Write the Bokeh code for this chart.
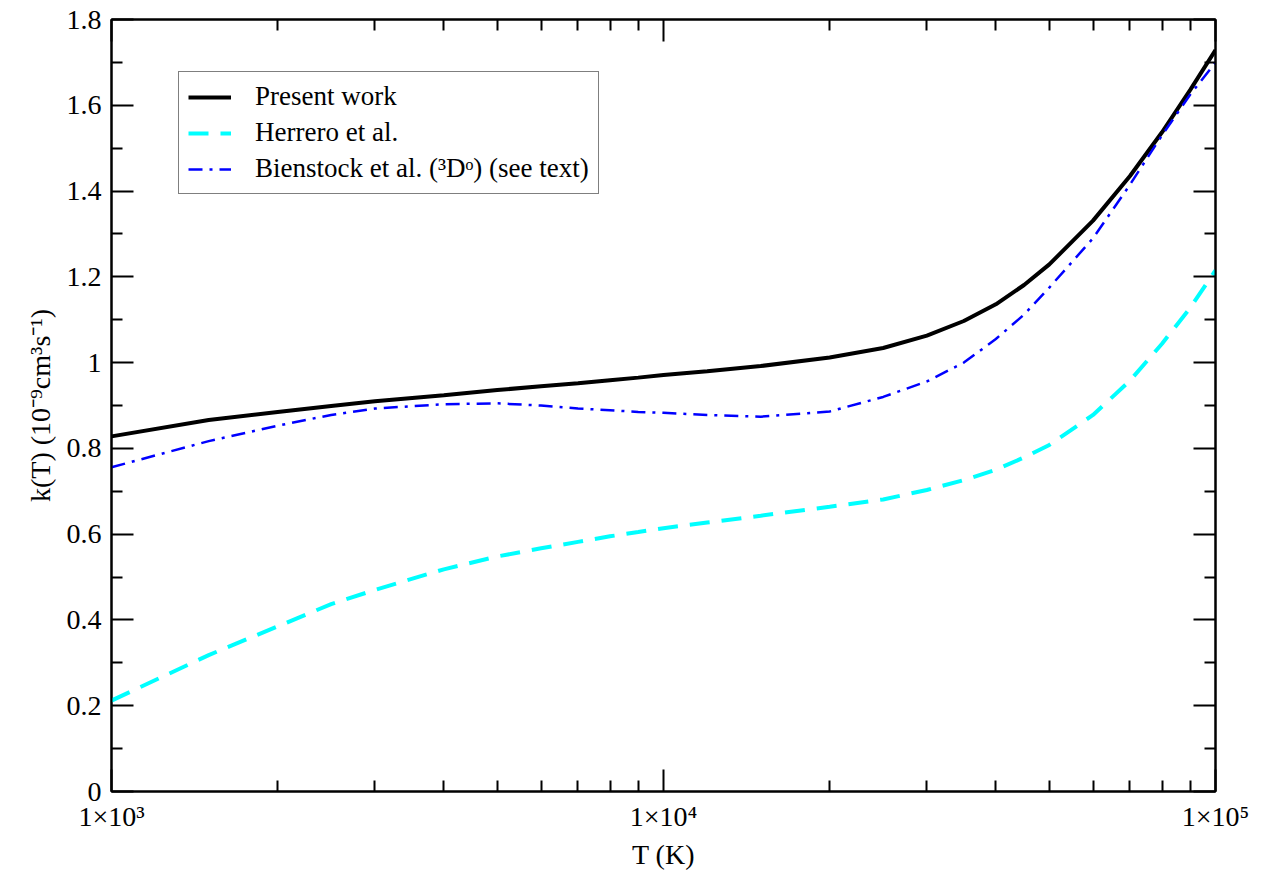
from bokeh.plotting import figure
from bokeh.models import (FixedTicker, CustomJSTickFormatter, LinearAxis, LogAxis,
                          Legend, LegendItem, Range1d)
from bokeh.embed import file_html
from bokeh.resources import INLINE

# ---- data ----
T = [1000, 1500, 2000, 2500, 3000, 4000, 5000, 6000, 7000, 8000, 9000, 10000,
     12000, 15000, 20000, 25000, 30000, 35000, 40000, 45000, 50000, 60000,
     70000, 80000, 90000, 100000]
present_work = [0.828, 0.866, 0.885, 0.899, 0.910, 0.924, 0.936, 0.945, 0.952,
                0.959, 0.965, 0.971, 0.980, 0.992, 1.012, 1.034, 1.063, 1.097,
                1.136, 1.181, 1.229, 1.331, 1.435, 1.537, 1.636, 1.729]
herrero = [0.212, 0.318, 0.385, 0.437, 0.470, 0.518, 0.548, 0.567, 0.582, 0.595,
           0.605, 0.614, 0.627, 0.643, 0.664, 0.681, 0.703, 0.726, 0.750, 0.779,
           0.808, 0.878, 0.958, 1.044, 1.128, 1.215]
bienstock = [0.756, 0.817, 0.853, 0.878, 0.893, 0.903, 0.905, 0.900, 0.893,
             0.889, 0.885, 0.883, 0.878, 0.874, 0.886, 0.920, 0.956, 1.000,
             1.055, 1.112, 1.175, 1.290, 1.415, 1.530, 1.625, 1.700]

x_major = [1000, 10000, 100000]
x_minor = [2000, 3000, 4000, 5000, 6000, 7000, 8000, 9000,
           20000, 30000, 40000, 50000, 60000, 70000, 80000, 90000]
x_labels = ["1×10³", "1×10⁴", "1×10⁵"]
y_major = [0, 0.2, 0.4, 0.6, 0.8, 1.0, 1.2, 1.4, 1.6, 1.8]
y_minor = [0.1, 0.3, 0.5, 0.7, 0.9, 1.1, 1.3, 1.5, 1.7]
y_labels = ["0", "0.2", "0.4", "0.6", "0.8", "1", "1.2", "1.4", "1.6", "1.8"]

x_title = "T (K)"
y_title = "k(T) (10⁻⁹cm³s⁻¹)"
names = ["Present work", "Herrero et al.", "Bienstock et al. (³Dᵒ) (see text)"]

FONT = "Liberation Serif"

p = figure(width=1265, height=876, x_axis_type="log",
           x_range=Range1d(1000, 100000), y_range=Range1d(0, 1.8),
           output_backend="svg", toolbar_location=None,
           min_border_left=111, min_border_right=50,
           min_border_top=19, min_border_bottom=85)
p.grid.visible = False
p.outline_line_color = "black"
p.outline_line_width = 2
p.background_fill_color = "white"
p.border_fill_color = "white"

r1 = p.line(T, present_work, line_color="black", line_width=4)
r2 = p.line(T, herrero, line_color="#00ffff", line_width=4, line_dash="20 12")
r3 = p.line(T, bienstock, line_color="#0000ff", line_width=2.5, line_dash="14 7 3 7")

xfmt = CustomJSTickFormatter(args=dict(vals=x_major, labs=x_labels), code="""
for (let i = 0; i < vals.length; i++) { if (Math.abs(vals[i] - tick) < 1e-6 * vals[i]) return labs[i]; }
return '';
""")
yfmt = CustomJSTickFormatter(args=dict(vals=y_major, labs=y_labels), code="""
for (let i = 0; i < vals.length; i++) { if (Math.abs(vals[i] - tick) < 1e-9) return labs[i]; }
return '';
""")
blank = CustomJSTickFormatter(code="return '';")

xt = FixedTicker(ticks=x_major, minor_ticks=x_minor)
yt = FixedTicker(ticks=y_major, minor_ticks=y_minor)


def style(ax, show):
    ax.major_tick_in = 22
    ax.major_tick_out = 0
    ax.minor_tick_in = 11
    ax.minor_tick_out = 0
    ax.major_tick_line_width = 2
    ax.minor_tick_line_width = 2
    ax.major_tick_line_color = "black"
    ax.minor_tick_line_color = "black"
    ax.axis_line_width = 2
    ax.axis_line_color = "black"
    ax.major_label_text_font = FONT
    ax.major_label_text_font_size = "28px" if show else "1px"
    ax.major_label_text_color = "black"
    ax.axis_label_text_font = FONT
    ax.axis_label_text_font_size = "28px"
    ax.axis_label_text_font_style = "normal"
    ax.axis_label_text_color = "black"


xa = p.xaxis[0]
xa.ticker = xt
xa.formatter = xfmt
xa.axis_label = x_title
style(xa, True)
xa.major_label_standoff = 9
xa.axis_label_standoff = 4

ya = p.yaxis[0]
ya.ticker = yt
ya.formatter = yfmt
ya.axis_label = y_title
style(ya, True)
ya.major_label_standoff = 10
ya.axis_label_standoff = 8

top = LogAxis(ticker=FixedTicker(ticks=x_major, minor_ticks=x_minor), formatter=blank)
style(top, False)
top.major_label_standoff = 0
p.add_layout(top, "above")

right = LinearAxis(ticker=FixedTicker(ticks=y_major, minor_ticks=y_minor), formatter=blank)
style(right, False)
right.major_label_standoff = 0
p.add_layout(right, "right")

legend = Legend(items=[LegendItem(label=names[0], renderers=[r1]),
                       LegendItem(label=names[1], renderers=[r2]),
                       LegendItem(label=names[2], renderers=[r3])],
                location=(67, 597))
legend.label_text_font = FONT
legend.label_text_font_size = "27px"
legend.label_text_color = "black"
legend.glyph_width = 43
legend.glyph_height = 24
legend.label_standoff = 24
legend.label_height = 28
legend.spacing = 5
legend.padding = 9
legend.margin = 0
legend.border_line_color = "black"
legend.border_line_width = 1.5
legend.background_fill_color = "white"
legend.background_fill_alpha = 1
p.add_layout(legend)

open("out.html", "w").write(file_html(p, INLINE))
